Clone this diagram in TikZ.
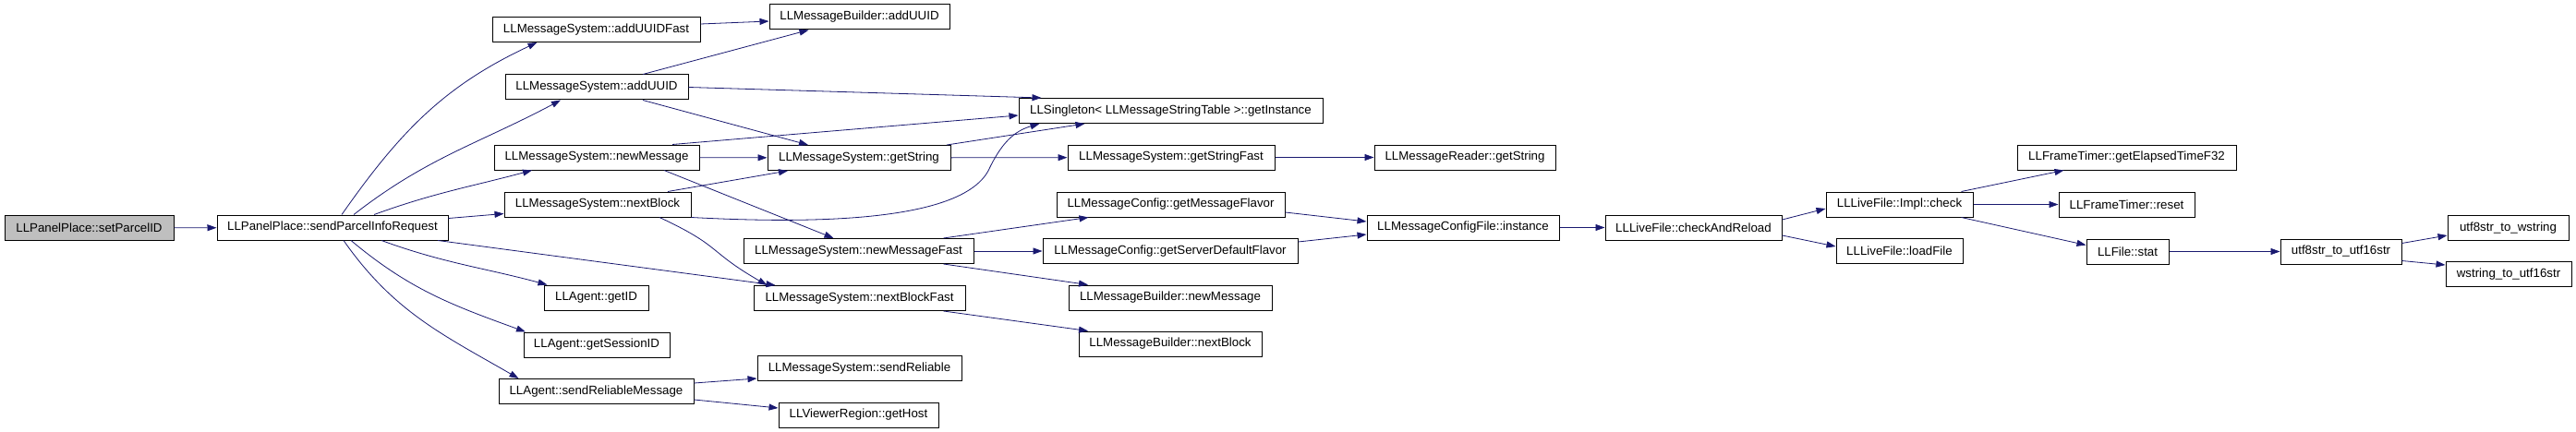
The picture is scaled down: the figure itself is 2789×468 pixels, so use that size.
\documentclass[tikz,border=0pt]{standalone}
\usepackage{fontspec}
\setmainfont{Liberation Sans}
\usetikzlibrary{arrows.meta}
\definecolor{mblue}{HTML}{191970}
\definecolor{rootgrey}{HTML}{BFBFBF}

\begin{document}
\begin{tikzpicture}[x=1pt,y=-1pt,
    func/.style={draw=black, line width=1pt, fill=white, minimum height=27pt,
      inner xsep=3pt, inner ysep=0pt, font=\fontsize{13.3}{15}\selectfont},
    root/.style={func, fill=rootgrey},
    call/.style={draw=mblue, line width=0.8pt, -{Triangle[length=10pt,width=7pt]}}]
    \useasboundingbox (0,0) rectangle (2789,468);
    % column 0 and 1
    \node[root, minimum width=183pt] (setparcel) at (96.5,247) {LLPanelPlace::setParcelID};
    \node[func, minimum width=250pt] (sendinfo) at (360,246.5) {LLPanelPlace::sendParcelInfoRequest};
    % column 2
    \node[func, minimum width=225pt] (adduuidfast) at (645.5,32) {LLMessageSystem::addUUIDFast};
    \node[func, minimum width=198pt] (adduuid) at (646,94.5) {LLMessageSystem::addUUID};
    \node[func, minimum width=222pt] (newmsg) at (646,170.5) {LLMessageSystem::newMessage};
    \node[func, minimum width=202pt] (nextblock) at (647,221.5) {LLMessageSystem::nextBlock};
    \node[func, minimum width=113pt] (getid) at (645.5,322.5) {LLAgent::getID};
    \node[func, minimum width=158pt] (getsession) at (646,373.5) {LLAgent::getSessionID};
    \node[func, minimum width=211pt] (sendrelmsg) at (645.5,424) {LLAgent::sendReliableMessage};
    % column 3
    \node[func, minimum width=195pt] (bldadduuid) at (930.5,18.5) {LLMessageBuilder::addUUID};
    \node[func, minimum width=198pt] (getstring) at (930,171) {LLMessageSystem::getString};
    \node[func, minimum width=249pt] (newmsgfast) at (929.5,272) {LLMessageSystem::newMessageFast};
    \node[func, minimum width=229pt] (nextblockfast) at (930.5,323) {LLMessageSystem::nextBlockFast};
    \node[func, minimum width=221pt] (sendrel) at (930.5,399) {LLMessageSystem::sendReliable};
    \node[func, minimum width=173pt] (gethost) at (929.5,449.5) {LLViewerRegion::getHost};
    % column 4
    \node[func, minimum width=329pt] (singleton) at (1267.5,120) {LLSingleton< LLMessageStringTable >::getInstance};
    \node[func, minimum width=224pt] (getstringfast) at (1268,170.5) {LLMessageSystem::getStringFast};
    \node[func, minimum width=247pt] (getflavor) at (1267.5,221.5) {LLMessageConfig::getMessageFlavor};
    \node[func, minimum width=276pt] (getdefflavor) at (1267,272) {LLMessageConfig::getServerDefaultFlavor};
    \node[func, minimum width=220pt] (bldnewmsg) at (1267,322.5) {LLMessageBuilder::newMessage};
    \node[func, minimum width=198pt] (bldnextblock) at (1267,372.5) {LLMessageBuilder::nextBlock};
    % column 5 to 9
    \node[func, minimum width=196pt] (readerstring) at (1586,170.5) {LLMessageReader::getString};
    \node[func, minimum width=208pt] (configinst) at (1584,246.5) {LLMessageConfigFile::instance};
    \node[func, minimum width=191pt] (checkreload) at (1833.5,246.5) {LLLiveFile::checkAndReload};
    \node[func, minimum width=159pt] (implcheck) at (2056.5,221.5) {LLLiveFile::Impl::check};
    \node[func, minimum width=137pt] (loadfile) at (2056.5,272) {LLLiveFile::loadFile};
    \node[func, minimum width=237pt] (elapsed) at (2302.5,170.5) {LLFrameTimer::getElapsedTimeF32};
    \node[func, minimum width=147pt] (timerreset) at (2302.5,221.5) {LLFrameTimer::reset};
    \node[func, minimum width=89pt] (filestat) at (2303.5,272.5) {LLFile::stat};
    \node[func, minimum width=131pt] (toutf16) at (2534.5,272.5) {utf8str\_to\_utf16str};
    \node[func, minimum width=131pt] (towstring) at (2715.5,247) {utf8str\_to\_wstring};
    \node[func, minimum width=136pt] (wstrutf16) at (2716,297) {wstring\_to\_utf16str};
    % calls out of sendParcelInfoRequest
    \draw[call] (setparcel) -- (sendinfo);
    \draw[call] ([xshift=10pt]sendinfo.north) to[out=55,in=205] ([xshift=-64pt]adduuidfast.south);
    \draw[call] ([xshift=23pt]sendinfo.north) to[out=38,in=208] ([xshift=-39pt]adduuid.south);
    \draw[call] ([xshift=45pt]sendinfo.north) to[out=20,in=195] ([xshift=-70pt]newmsg.south);
    \draw[call] ([yshift=10pt]sendinfo.east) -- ([yshift=-10pt]nextblock.west);
    \draw[call] ([xshift=114pt]sendinfo.south) -- ([xshift=-91pt]nextblockfast.north);
    \draw[call] ([xshift=53pt]sendinfo.south) to[out=-20,in=165] ([xshift=-53pt]getid.north);
    \draw[call] ([xshift=20pt]sendinfo.south) to[out=-40,in=160] ([xshift=-77pt]getsession.north);
    \draw[call] ([xshift=12pt]sendinfo.south) to[out=-55,in=150] ([xshift=-84pt]sendrelmsg.north);
    % column 2 to column 3 and 4
    \draw[call] ([yshift=6pt]adduuidfast.east) -- ([yshift=-4.5pt]bldadduuid.west);
    \draw[call] ([xshift=50pt]adduuid.north) -- ([xshift=-55pt]bldadduuid.south);
    \draw[call] (adduuid.east) -- ([xshift=-140pt]singleton.north);
    \draw[call] ([xshift=50pt]adduuid.south) -- ([xshift=-55pt]getstring.north);
    \draw[call] (newmsg) -- (getstring);
    \draw[call] ([xshift=82pt]newmsg.north) -- ([yshift=-5pt]singleton.west);
    \draw[call] ([xshift=73pt]newmsg.south) -- ([xshift=-27pt]newmsgfast.north);
    \draw[call] ([xshift=76pt]nextblock.north) -- ([xshift=-77pt]getstring.south);
    \draw[call] (nextblock.south east) .. controls (980,248) and (1052,218) .. (1070,185)
      .. controls (1084,155) and (1098,142) .. ([xshift=-142pt]singleton.south);
    \draw[call] ([xshift=67pt]nextblock.south) to[out=-25,in=150,looseness=1.4] ([xshift=-100pt]nextblockfast.north);
    \draw[call] ([yshift=9pt]sendrelmsg.east) -- ([yshift=-11pt]sendrel.west);
    \draw[call] ([yshift=-9pt]sendrelmsg.east) -- ([yshift=7.5pt]gethost.west);
    % column 3 to column 4
    \draw[call] ([xshift=95pt]getstring.north) -- ([xshift=-93pt]singleton.south);
    \draw[call] (getstring) -- (getstringfast);
    \draw[call] ([xshift=92pt]newmsgfast.north) -- ([xshift=-89pt]getflavor.south);
    \draw[call] (newmsgfast) -- (getdefflavor);
    \draw[call] ([xshift=92pt]newmsgfast.south) -- ([xshift=-89pt]bldnewmsg.north);
    \draw[call] ([xshift=91pt]nextblockfast.south) -- ([xshift=-89pt]bldnextblock.north);
    % further right
    \draw[call] (getstringfast) -- (readerstring);
    \draw[call] ([yshift=-8.5pt]getflavor.east) -- ([yshift=6.5pt]configinst.west);
    \draw[call] ([yshift=10pt]getdefflavor.east) -- ([yshift=-7.5pt]configinst.west);
    \draw[call] (configinst) -- (checkreload);
    \draw[call] ([yshift=8.5pt]checkreload.east) -- ([yshift=-4.5pt]implcheck.west);
    \draw[call] ([yshift=-8.5pt]checkreload.east) -- ([yshift=5pt]loadfile.west);
    \draw[call] ([xshift=67pt]implcheck.north) -- ([xshift=-68pt]elapsed.south);
    \draw[call] (implcheck) -- (timerreset);
    \draw[call] ([xshift=67pt]implcheck.south) -- ([yshift=7pt]filestat.west);
    \draw[call] (filestat) -- (toutf16);
    \draw[call] ([yshift=9pt]toutf16.east) -- ([yshift=-8pt]towstring.west);
    \draw[call] ([yshift=-10pt]toutf16.east) -- ([yshift=10pt]wstrutf16.west);
\end{tikzpicture}
\end{document}
